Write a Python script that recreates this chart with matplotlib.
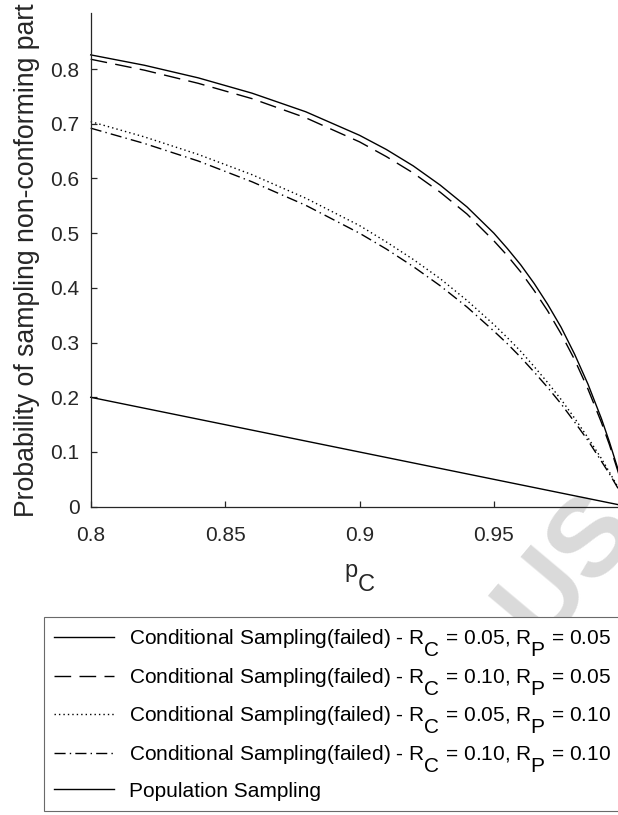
import matplotlib
matplotlib.use("Agg")
import matplotlib.pyplot as plt
import matplotlib._mathtext as _mt

# TeX-style subscripts: nearly full size and dropped well below the baseline
_mt.SHRINK_FACTOR = 1.0
_mt.FontConstantsBase.sub1 = 1.15

plt.rcParams["font.family"] = ["Liberation Sans", "DejaVu Sans"]
plt.rcParams["mathtext.fontset"] = "custom"
plt.rcParams["mathtext.rm"] = "Liberation Sans"
plt.rcParams["mathtext.it"] = "Liberation Sans:italic"

# probability of conforming part
p_c = [0.80, 0.82, 0.84, 0.86, 0.88, 0.90, 0.91, 0.92, 0.93, 0.94, 0.95, 0.955,
       0.96, 0.965, 0.97, 0.975, 0.98, 0.985, 0.99, 0.993, 0.996, 0.998, 1.0]

# conditional sampling (failed), four (R_C, R_P) settings
cond_05_05 = [0.826, 0.807, 0.784, 0.756, 0.722, 0.679, 0.653, 0.623, 0.588, 0.548, 0.500, 0.472,
              0.442, 0.408, 0.370, 0.328, 0.279, 0.224, 0.161, 0.118, 0.071, 0.037, 0.0]
cond_10_05 = [0.818, 0.798, 0.774, 0.746, 0.711, 0.667, 0.640, 0.610, 0.575, 0.535, 0.486, 0.459,
              0.429, 0.395, 0.358, 0.316, 0.269, 0.215, 0.154, 0.113, 0.067, 0.035, 0.0]
cond_05_10 = [0.704, 0.676, 0.644, 0.607, 0.564, 0.514, 0.484, 0.452, 0.417, 0.377, 0.333, 0.309,
              0.284, 0.256, 0.227, 0.196, 0.162, 0.126, 0.088, 0.063, 0.037, 0.019, 0.0]
cond_10_10 = [0.692, 0.664, 0.632, 0.594, 0.551, 0.500, 0.471, 0.439, 0.404, 0.365, 0.321, 0.298,
              0.273, 0.246, 0.218, 0.188, 0.155, 0.121, 0.083, 0.060, 0.035, 0.018, 0.0]

# population sampling
pop_p = [0.80, 1.00]
pop_vals = [0.20, 0.00]

labels = [
    r"Conditional Sampling(failed) - R$_\mathregular{C}$ = 0.05, R$_\mathregular{P}$ = 0.05",
    r"Conditional Sampling(failed) - R$_\mathregular{C}$ = 0.10, R$_\mathregular{P}$ = 0.05",
    r"Conditional Sampling(failed) - R$_\mathregular{C}$ = 0.05, R$_\mathregular{P}$ = 0.10",
    r"Conditional Sampling(failed) - R$_\mathregular{C}$ = 0.10, R$_\mathregular{P}$ = 0.10",
    "Population Sampling",
]
x_ticks = [0.8, 0.85, 0.9, 0.95]
x_ticklabels = ["0.8", "0.85", "0.9", "0.95"]
y_ticks = [0, 0.1, 0.2, 0.3, 0.4, 0.5, 0.6, 0.7, 0.8]
y_ticklabels = ["0", "0.1", "0.2", "0.3", "0.4", "0.5", "0.6", "0.7", "0.8"]

W, H = 618, 815
fig = plt.figure(figsize=(W / 100, H / 100), dpi=100)
fig.patch.set_facecolor("white")

# faint diagonal watermark, behind everything else
fig.text(568 / W, 1 - 568 / H, "US", fontsize=80, fontweight="bold", color="#dadada",
         rotation=50, ha="center", va="center", zorder=-1)

ax = fig.add_axes([90.7 / W, 1 - 506.7 / H, 537.6 / W, 493.4 / H])
ax.set_facecolor("none")

LW = 1.0
styles = [
    dict(linestyle="-"),
    dict(linestyle=(0, (12, 6))),
    dict(linestyle=(0, (1, 2.2))),
    dict(linestyle=(0, (8, 3, 1, 3))),
    dict(linestyle="-"),
]
series = [cond_05_05, cond_10_05, cond_05_10, cond_10_10]
handles = []
for vals, st, lab in zip(series, styles[:4], labels[:4]):
    h, = ax.plot(p_c, vals, color="black", lw=LW, label=lab, clip_on=False, **st)
    handles.append(h)
h, = ax.plot(pop_p, pop_vals, color="black", lw=LW, label=labels[4], clip_on=False, **styles[4])
handles.append(h)

ax.set_xlim(0.8, 1.0)
ax.set_ylim(0, 0.902)
ax.set_xticks(x_ticks)
ax.set_xticklabels(x_ticklabels)
ax.set_yticks(y_ticks)
ax.set_yticklabels(y_ticklabels)

axc = "#262626"
for side in ("top", "right"):
    ax.spines[side].set_visible(False)
for side in ("left", "bottom"):
    ax.spines[side].set_color(axc)
    ax.spines[side].set_linewidth(0.9)
ax.tick_params(direction="in", length=4, width=0.9, color=axc, labelcolor=axc,
               labelsize=15)
ax.tick_params(axis="x", pad=14)
ax.tick_params(axis="y", pad=8)

ax.set_ylabel("Probability of sampling non-conforming part", fontsize=19.2, color=axc)
ax.yaxis.set_label_coords(-0.095, 0.5)
fig.text(359.5 / W, 1 - 577 / H, r"p$_\mathregular{C}$", fontsize=17, color=axc,
         ha="center", va="baseline")

leg = fig.legend(handles, labels, loc="upper left", bbox_to_anchor=(44 / W, 1 - 617 / H),
                 frameon=True, fancybox=False, edgecolor="#6a6a6a", framealpha=1,
                 fontsize=15.0, borderaxespad=0, borderpad=0.5, handlelength=2.85,
                 handletextpad=0.72, labelspacing=0.33)
leg.get_frame().set_linewidth(0.8)
leg.set_zorder(5)

fig.savefig("out.png", dpi=100, facecolor="white")
